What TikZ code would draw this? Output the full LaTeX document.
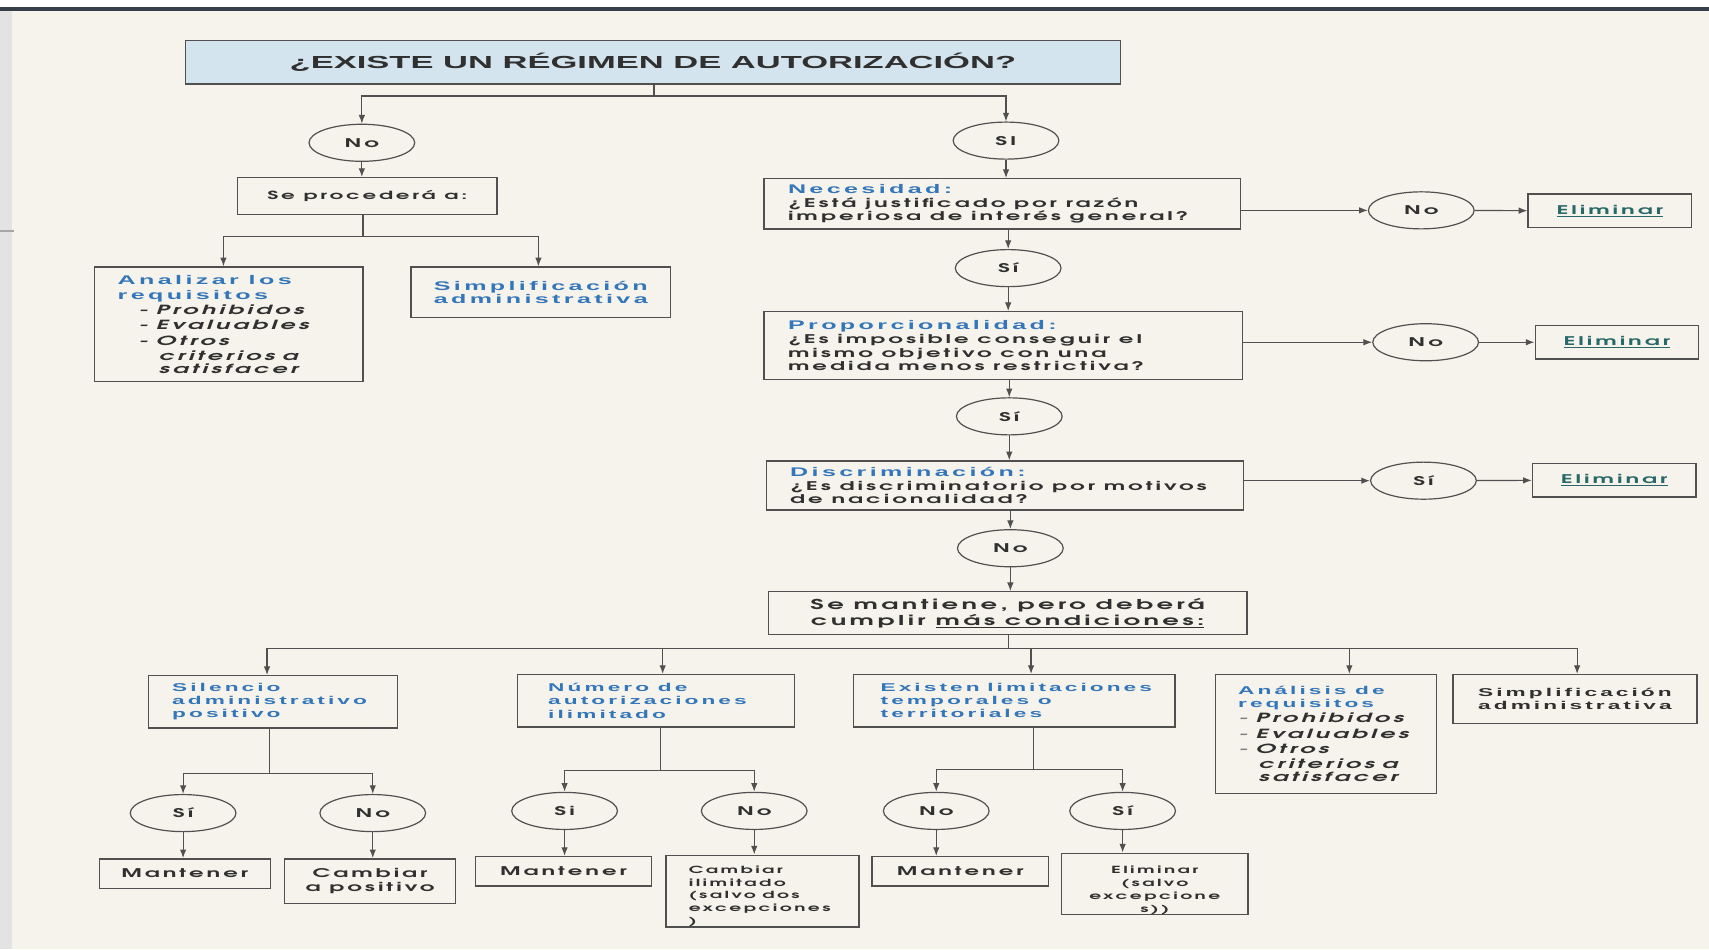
\documentclass[tikz,border=0pt]{standalone}
\usepackage{fontspec}
\usetikzlibrary{arrows.meta,shapes.geometric}

\newfontfamily\gothic{texgyreadventor}[Extension=.otf, UprightFont=*-regular, BoldFont=*-bold, ItalicFont=*-italic, BoldItalicFont=*-bolditalic, FakeStretch=1.9, LetterSpace=25]
\newfontfamily\arialf{Liberation Sans}[FakeStretch=2.0, LetterSpace=27]
\newfontfamily\titlef{Liberation Sans}[FakeStretch=1.98]

\definecolor{paper}{RGB}{245,243,235}
\definecolor{linec}{RGB}{80,80,80}
\definecolor{darkt}{RGB}{48,48,48}
\definecolor{bluet}{RGB}{52,118,186}
\definecolor{titlefill}{RGB}{212,228,238}
\definecolor{elimc}{RGB}{40,104,104}
\definecolor{topline}{RGB}{55,64,74}

\newcommand{\gaps}[1]{\spaceskip=#1pt plus 2pt minus 1pt\relax}
\newcommand{\bodyf}{\gothic\bfseries\fontsize{11}{13}\selectfont\gaps{8}}
\newcommand{\circf}{\gothic\bfseries\fontsize{11}{13}\selectfont}
\newcommand{\smallf}{\gothic\bfseries\fontsize{9}{11.5}\selectfont\gaps{6}}
\newcommand{\listf}{\gothic\bfseries\itshape\fontsize{11.6}{14}\selectfont\color{darkt}\gaps{7}}
\newcommand{\headmid}{\arialf\bfseries\fontsize{11.5}{14}\selectfont\color{bluet}\gaps{9}}
\newcommand{\headsmall}{\arialf\bfseries\fontsize{10.4}{12}\selectfont\color{bluet}\gaps{8}}

\begin{document}
\begin{tikzpicture}[x=1pt, y=1pt,
    box/.style={draw=linec, line width=1.2pt, inner sep=0pt, text=darkt},
    yesno/.style={draw=linec, line width=1.1pt, ellipse, inner sep=0pt,
      minimum width=97, minimum height=34, font=\circf, text=darkt},
    elim/.style={box, minimum width=150, minimum height=31,
      font=\bodyf, text=elimc},
    keep/.style={box, minimum width=160, minimum height=27, font=\bodyf},
    arr/.style={draw=linec, line width=1.1pt, -{Latex[length=8pt,width=6pt]}},
    link/.style={draw=linec, line width=1.1pt}]

  % Draw page
  \fill[paper] (0,0) rectangle (1568,-871);
  \fill[white] (0,0) rectangle (1568,-6);
  \fill[topline] (0,-6) rectangle (1568,-10);
  \fill[gray!22] (0,-10) rectangle (11,-871);
  \fill[gray!70] (0,-211) rectangle (13,-213);
  \useasboundingbox (0,0) rectangle (1568,-871);

  % Draw title
  \node[box, fill=titlefill, minimum width=858, minimum height=40, text height=11.5pt, text depth=-4pt,
    font=\titlef\bfseries\fontsize{16}{19}\selectfont] (title) at (599,-57)
    {¿EXISTE UN RÉGIMEN DE AUTORIZACIÓN?};

  % Draw left branch
  \node[yesno] (no1) at (332,-131) {No};
  \node[box, minimum width=238, minimum height=34, font=\gothic\bfseries\fontsize{10.3}{12}\selectfont\gaps{8}] (proc) at (337,-180)
    {Se procederá a:};
  \node[box, minimum width=246, minimum height=105, text width=204, align=left] (anal1) at (210,-297.5)
    {\headmid Analizar los\\requisitos\\
     \listf\hspace*{19pt}- Prohibidos\\\hspace*{19pt}- Evaluables\\\hspace*{19pt}- Otros\\
     \hspace*{38pt}criterios a\\\hspace*{38pt}satisfacer};
  \node[box, minimum width=238, minimum height=46, text width=196, align=left] (simp1) at (496,-268)
    {\headmid Simplificación\\administrativa};

  % Draw right column
  \node[yesno] (si1) at (923,-129) {SI};
  \node[box, minimum width=437, minimum height=46, text width=393, align=left] (nec) at (919.5,-187)
    {{\headmid Necesidad:}\\\bodyf ¿Está justificado por razón\\imperiosa de interés general?};
  \node[yesno] (no2) at (1304,-193) {No};
  \node[elim] (elim1) at (1477,-193.5) {\underline{Eliminar}};

  \node[yesno] (si2) at (925,-246) {Sí};
  \node[box, minimum width=439, minimum height=62, text width=395, align=left] (prop) at (920.5,-317)
    {{\headmid Proporcionalidad:}\\\bodyf ¿Es imposible conseguir el\\mismo objetivo con una\\medida menos restrictiva?};
  \node[yesno] (no3) at (1308,-314) {No};
  \node[elim] (elim2) at (1483.5,-314) {\underline{Eliminar}};

  \node[yesno] (si3) at (926,-382) {Sí};
  \node[box, minimum width=438, minimum height=45, text width=394, align=left] (disc) at (922,-445.5)
    {{\headmid Discriminación:}\\\bodyf ¿Es discriminatorio por motivos\\de nacionalidad?};
  \node[yesno] (si4) at (1306,-441) {Sí};
  \node[elim] (elim3) at (1481,-440.5) {\underline{Eliminar}};

  \node[yesno] (no4) at (927,-503) {No};
  \node[box, minimum width=439, minimum height=39, align=center,
    font=\gothic\bfseries\fontsize{12.5}{14}\selectfont\gaps{9}] (mant) at (924.5,-562.5)
    {Se mantiene, pero deberá\\cumplir \underline{más condiciones:}};

  % Draw conditions
  \node[box, minimum width=229, minimum height=48, text width=185, align=left] (sil) at (250.5,-644)
    {\headsmall Silencio\\administrativo\\positivo};
  \node[box, minimum width=254, minimum height=48, text width=198, align=left] (num) at (602,-643)
    {\headsmall Número de\\autorizaciones\\ilimitado};
  \node[box, minimum width=295, minimum height=48, text width=245, align=left] (exi) at (930.5,-643)
    {\headsmall Existen limitaciones\\temporales o\\territoriales};
  \node[box, minimum width=203, minimum height=109, text width=161, align=left] (ana) at (1216.5,-673.5)
    {\headsmall Análisis de\\requisitos\\
     \listf{\color{gray}-} Prohibidos\\{\color{gray}-} Evaluables\\{\color{gray}-} Otros\\
     \hspace*{19pt}criterios a\\\hspace*{19pt}satisfacer};
  \node[box, minimum width=224, minimum height=45, align=center, font=\headsmall] (simp2) at (1445,-641.5)
    {Simplificación\\administrativa};

  % Draw sub-branches
  \node[yesno] (s5) at (168,-746) {Sí};
  \node[yesno] (n5) at (342,-746) {No};
  \node[keep, minimum width=157] (m5) at (169.5,-801.5) {Mantener};
  \node[box, minimum width=157, minimum height=41, font=\bodyf, align=center] (c5) at (339.5,-808.5)
    {Cambiar\\a positivo};

  \node[yesno] (s6) at (518,-744) {Si};
  \node[yesno] (n6) at (692,-744) {No};
  \node[keep, minimum width=162] (m6) at (517,-799.5) {Mantener};
  \node[box, minimum width=177, minimum height=63, text width=135, align=left] (c6) at (699.5,-817.5)
    {\smallf\rule{0pt}{17pt}Cambiar\\ilimitado\\(salvo dos\\excepciones\\)};

  \node[yesno] (n7) at (859,-744) {No};
  \node[yesno] (s7) at (1030,-744) {Sí};
  \node[keep, minimum width=162] (m7) at (881,-799.5) {Mantener};
  \node[box, minimum width=171, minimum height=50, text width=150, align=center] (e7) at (1059.5,-811)
    {\smallf\rule{0pt}{19pt}Eliminar\\(salvo\\excepcione\\s))};

  % Draw top connectors
  \coordinate (j1) at (600,-88);
  \draw[link] (title.south -| j1) -- (j1);
  \draw[arr] (j1) -| (no1);
  \draw[arr] (j1) -| (si1);
  \draw[arr] (no1) -- (no1 |- proc.north);
  \coordinate (j2) at (333,-217);
  \draw[link] (proc.south -| j2) -- (j2);
  \draw[arr] (j2) -| ([xshift=-5pt]anal1.north);
  \draw[arr] (j2) -| ([xshift=-2pt]simp1.north);

  % Draw right column connectors
  \draw[arr] (si1) -- (si1 |- nec.north);
  \draw[arr] (nec.east |- no2) -- (no2);
  \draw[arr] (no2) -- (elim1);
  \draw[arr] (nec.south -| si2) -- (si2);
  \draw[arr] (si2) -- (si2 |- prop.north);
  \draw[arr] (prop.east |- no3) -- (no3);
  \draw[arr] (no3) -- (elim2);
  \draw[arr] (prop.south -| si3) -- (si3);
  \draw[arr] (si3) -- (si3 |- disc.north);
  \draw[arr] (disc.east |- si4) -- (si4);
  \draw[arr] (si4) -- (elim3);
  \draw[arr] (disc.south -| no4) -- (no4);
  \draw[arr] (no4) -- (no4 |- mant.north);

  % Draw condition connectors
  \coordinate (j3) at (925,-595);
  \draw[link] (mant.south -| j3) -- (j3);
  \draw[arr] (j3) -| ([xshift=-5.5pt]sil.north);
  \draw[arr] (j3) -| ([xshift=6pt]num.north);
  \draw[arr] (j3) -| ([xshift=15.5pt]exi.north);
  \draw[arr] (j3) -| ([xshift=21.5pt]ana.north);
  \draw[arr] (j3) -| ([xshift=2pt]simp2.north);

  % Draw sub-branch connectors
  \coordinate (j4) at (247,-710);
  \draw[link] (sil.south -| j4) -- (j4);
  \draw[arr] (j4) -| (s5);
  \draw[arr] (j4) -| (n5);
  \draw[arr] (s5) -- (s5 |- m5.north);
  \draw[arr] (n5) -- (n5 |- c5.north);

  \coordinate (j5) at (606,-707);
  \draw[link] (num.south -| j5) -- (j5);
  \draw[arr] (j5) -| (s6);
  \draw[arr] (j5) -| (n6);
  \draw[arr] (s6) -- (s6 |- m6.north);
  \draw[arr] (n6) -- (n6 |- c6.north);

  \coordinate (j6) at (948,-706);
  \draw[link] (exi.south -| j6) -- (j6);
  \draw[arr] (j6) -| (n7);
  \draw[arr] (j6) -| (s7);
  \draw[arr] (n7) -- (n7 |- m7.north);
  \draw[arr] (s7) -- (s7 |- e7.north);
\end{tikzpicture}
\end{document}
